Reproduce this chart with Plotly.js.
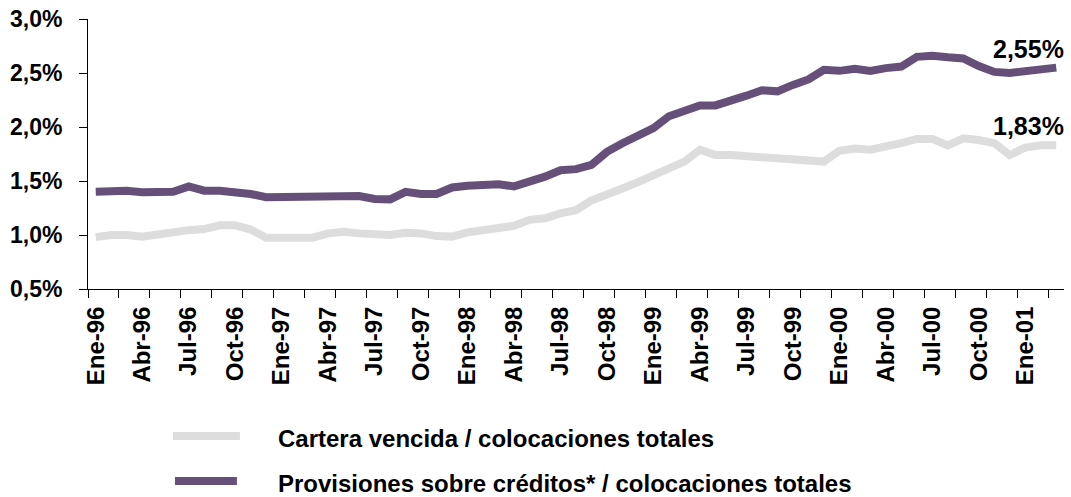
<!DOCTYPE html>
<html>
<head>
<meta charset="utf-8">
<script src="https://cdn.plot.ly/plotly-3.0.1.min.js"></script>
<style>html,body{margin:0;padding:0;background:#fff;}#chart{width:1071px;height:497px;}</style>
</head>
<body>
<div id="chart"></div>
<script>
// Monthly categories Ene-96 .. Mar-01
const monthNames = ["Ene","Feb","Mar","Abr","May","Jun","Jul","Ago","Sep","Oct","Nov","Dic"];
const years = ["96","97","98","99","00","01"];
const categories = [];
for (const y of years) for (const m of monthNames) categories.push(m + "-" + y);
categories.length = 63;

const seriesNames = ["Cartera vencida / colocaciones totales",
                     "Provisiones sobre créditos* / colocaciones totales"];

const carteraVencida = [
  0.98,1.00,1.00,0.985,1.005,1.03,1.045,1.055,1.09,1.09,1.05,0.975,
  0.97,0.97,0.975,1.015,1.03,1.015,1.01,1.00,1.02,1.015,0.99,0.985,
  1.025,1.045,1.05,1.085,1.14,1.155,1.20,1.23,1.32,1.37,1.43,1.49,
  1.55,1.60,1.68,1.79,1.74,1.74,1.73,1.72,1.72,1.70,1.70,1.68,
  1.78,1.80,1.79,1.815,1.85,1.89,1.89,1.83,1.895,1.88,1.85,1.74,
  1.81,1.83,1.83
];
const provisiones = [
  1.40,1.41,1.41,1.395,1.395,1.40,1.45,1.41,1.41,1.40,1.38,1.35,
  1.35,1.355,1.36,1.35,1.355,1.36,1.333,1.33,1.40,1.38,1.38,1.44,
  1.455,1.465,1.47,1.45,1.49,1.54,1.60,1.61,1.65,1.77,1.85,1.92,
  1.99,2.10,2.16,2.20,2.20,2.24,2.29,2.34,2.33,2.39,2.44,2.53,
  2.52,2.54,2.52,2.545,2.56,2.65,2.66,2.645,2.635,2.565,2.51,2.50,
  2.52,2.535,2.55
];
const yTickVals = [0.5,1.0,1.5,2.0,2.5,3.0];
const yTickText = yTickVals.map(v => v.toFixed(1).replace(".", ",") + "%");

const colors = ["#DDDDDD", "#66507A"];
const W = 1071, H = 497;
const M = {l: 88, r: 6.5, t: 19, b: 208};
const pw = W - M.l - M.r, ph = H - M.t - M.b;
const px2x = p => (p - M.l) / pw;
const py2y = p => (H - M.b - p) / ph;

const xIdx = categories.map((_, i) => i);
const labelIdx = xIdx.filter(i => i % 3 === 0);

const traces = [carteraVencida, provisiones].map((vals, k) => ({
  type: "scatter", mode: "lines", x: xIdx, y: vals, name: seriesNames[k],
  line: {color: colors[k], width: 8}, showlegend: false, hoverinfo: "skip"
}));

const fmt = v => v.toFixed(2).replace(".", ",") + "%";
const font = {family: "Liberation Sans, Arial, sans-serif", color: "#000"};
const last = categories.length - 1;

const annotations = [
  {x: last, y: provisiones[last], text: "<b>" + fmt(provisiones[last]) + "</b>",
   xref: "x", yref: "y", showarrow: false, xanchor: "right", yanchor: "bottom",
   xshift: 10, yshift: 3, font: Object.assign({size: 25}, font)},
  {x: last, y: carteraVencida[last], text: "<b>" + fmt(carteraVencida[last]) + "</b>",
   xref: "x", yref: "y", showarrow: false, xanchor: "right", yanchor: "bottom",
   xshift: 10, yshift: 3, font: Object.assign({size: 25}, font)}
];
const legendY = [438, 483];
const shapes = [];
seriesNames.forEach((n, k) => {
  annotations.push({x: px2x(276), y: py2y(legendY[k]), xref: "paper", yref: "paper",
    text: "<b>" + n + "</b>", showarrow: false, xanchor: "left", yanchor: "middle",
    font: Object.assign({size: 24}, font)});
  shapes.push({type: "line", xref: "paper", yref: "paper",
    x0: px2x(k === 0 ? 173 : 175), x1: px2x(k === 0 ? 240 : 237),
    y0: py2y(legendY[k] - 2), y1: py2y(legendY[k] - 2),
    line: {color: colors[k], width: 8}});
});

const layout = {
  width: W, height: H, margin: M,
  paper_bgcolor: "#fff", plot_bgcolor: "#fff",
  showlegend: false,
  xaxis: {
    range: [-0.5, last + 0.5], showgrid: false, zeroline: false,
    showline: true, linecolor: "#000", linewidth: 1,
    tickmode: "array", tickvals: labelIdx, ticktext: labelIdx.map(i => categories[i]),
    ticks: "", tickangle: -90, ticklabelstandoff: 7,
    tickfont: Object.assign({size: 24, weight: "bold"}, font),
    minor: {tickmode: "linear", tick0: -0.5, dtick: 2, ticks: "outside", ticklen: 8,
            tickcolor: "#000", tickwidth: 1, showgrid: false}
  },
  yaxis: {
    range: [0.5, 3.0], showgrid: false, zeroline: false,
    showline: true, linecolor: "#000", linewidth: 1,
    tickmode: "array", tickvals: yTickVals, ticktext: yTickText,
    ticks: "outside", ticklen: 8, tickcolor: "#000",
    ticklabelstandoff: 12,
    tickfont: Object.assign({size: 23, weight: "bold"}, font)
  },
  annotations: annotations,
  shapes: shapes
};

Plotly.newPlot("chart", traces, layout, {displayModeBar: false, staticPlot: true});
</script>
</body>
</html>
